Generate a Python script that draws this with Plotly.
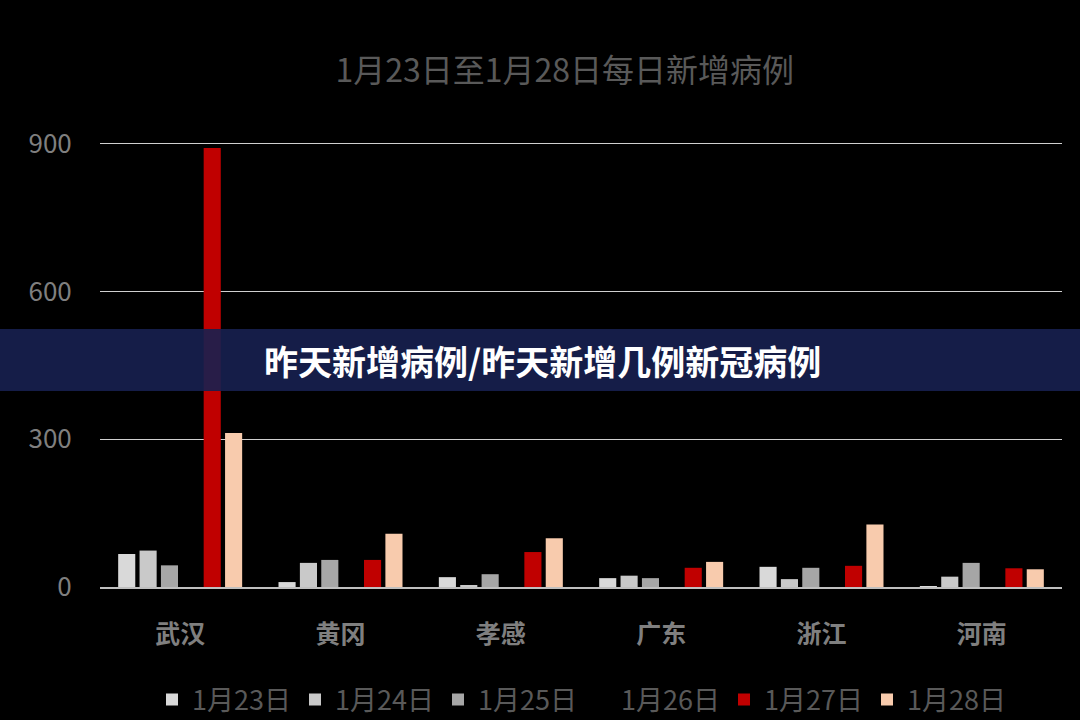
import plotly.graph_objects as go

# 地区
regions = ['武汉', '黄冈', '孝感', '广东', '浙江', '河南']

# 每日新增病例
jan23 = [67, 10, 20, 18, 41, 2]
jan24 = [74, 49, 3, 23, 16, 21]
jan25 = [44, 55, 26, 18, 39, 49]
jan26 = [46, 30, 20, 13, 24, 15]   # 黑色柱，图中看不见
jan27 = [892, 55, 71, 39, 43, 38]
jan28 = [313, 108, 99, 51, 127, 36]

series_names = ['1月23日', '1月24日', '1月25日', '1月26日', '1月27日', '1月28日']
series_values = [jan23, jan24, jan25, jan26, jan27, jan28]
series_colors = ['#d9d9d9', '#c9c9c9', '#a6a6a6', '#000000', '#c00000', '#f8cbad']

y_ticks = [0, 300, 600, 900]

fig = go.Figure()
for name, vals, color in zip(series_names, series_values, series_colors):
    fig.add_trace(go.Bar(x=regions, y=vals, name=name, marker=dict(color=color, line=dict(width=0))))

# 图表区域像素位置（0 在 587，900 在 144）
L, R, B = 100, 1062, 587
y_top = 906
T = B - 443 * y_top / 900
W, H = R - L, B - T

def px_x(p):
    return (p - L) / W

def px_y(p):
    return (B - p) / H

fig.update_layout(
    width=1080, height=720,
    margin=dict(l=L, r=1080 - R, t=T, b=720 - B, pad=0),
    paper_bgcolor='black', plot_bgcolor='black',
    font=dict(family='Noto Sans CJK SC', color='#7f7f7f'),
    barmode='group', bargap=0.2, bargroupgap=0.2,
    title=dict(text='1月23日至1月28日每日新增病例', x=0.523, xanchor='center',
               y=1 - 71 / 720, yanchor='middle',
               font=dict(size=32, color='#595959')),
    xaxis=dict(showgrid=False, showline=True, linecolor='#bfbfbf', linewidth=2,
               tickvals=regions, ticktext=['<b>%s</b>' % r for r in regions],
               ticks='outside', ticklen=24, tickcolor='rgba(0,0,0,0)',
               tickfont=dict(size=25, color='#7f7f7f'),
               fixedrange=True),
    yaxis=dict(range=[0, y_top], tickvals=y_ticks, showgrid=True, gridcolor='#d0d0d0', gridwidth=1.3,
               zeroline=False, showline=False,
               ticks='outside', ticklen=22, tickcolor='rgba(0,0,0,0)',
               tickfont=dict(size=26, color='#7f7f7f')),
    legend=dict(orientation='h', x=0.5, xanchor='center', yref='container', y=1 - 700 / 720,
                yanchor='middle', font=dict(size=27, color='#595959'),
                entrywidth=98, entrywidthmode='pixels', itemwidth=30,
                itemclick=False, bgcolor='rgba(0,0,0,0)'),
    showlegend=True,
)

# 横幅
fig.add_shape(type='rect', xref='paper', yref='paper',
              x0=px_x(0), x1=px_x(1080), y0=px_y(391), y1=px_y(329),
              fillcolor='rgba(23,32,80,0.9)', line=dict(width=0), layer='above')
fig.add_annotation(text='<b>昨天新增病例/昨天新增几例新冠病例</b>', xref='paper', yref='paper',
                   x=px_x(262), y=px_y(361), xanchor='left', yanchor='middle', showarrow=False,
                   font=dict(size=34, color='white', family='Noto Sans CJK SC'))

fig.write_html('out.html', config={'displayModeBar': False},
               post_script="document.body.style.margin='0';")
